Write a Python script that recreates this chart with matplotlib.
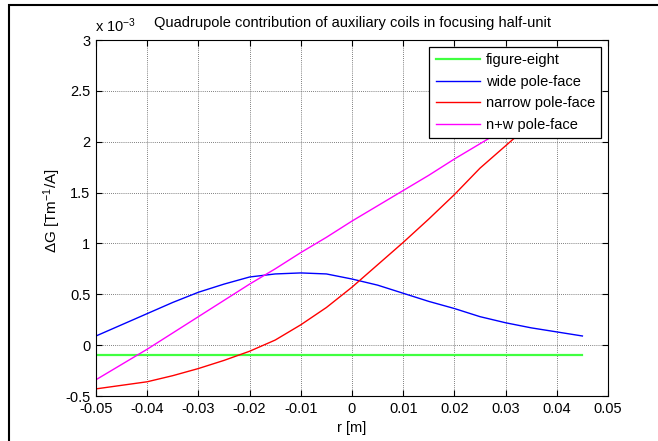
import numpy as np
import matplotlib.pyplot as plt
from matplotlib.patches import Rectangle

plt.rcParams['font.family'] = ['Liberation Sans', 'DejaVu Sans']
plt.rcParams['mathtext.fontset'] = 'custom'
plt.rcParams['mathtext.rm'] = 'Liberation Sans'
plt.rcParams['mathtext.it'] = 'Liberation Sans'

# radial position [m]
r = [-0.05, -0.045, -0.04, -0.035, -0.03, -0.025, -0.02, -0.015, -0.01, -0.005,
     0.0, 0.005, 0.01, 0.015, 0.02, 0.025, 0.03, 0.035, 0.04, 0.045]

# gradient per ampere, units of 1e-3 Tm^-1/A
figure_eight = [-0.10] * 20
wide = [0.09, 0.20, 0.31, 0.42, 0.52, 0.60, 0.67, 0.70, 0.71, 0.70,
        0.65, 0.59, 0.51, 0.43, 0.36, 0.28, 0.22, 0.17, 0.13, 0.09]
narrow = [-0.43, -0.395, -0.36, -0.30, -0.23, -0.15, -0.06, 0.05, 0.20, 0.37,
          0.57, 0.79, 1.01, 1.24, 1.48, 1.74, 1.96, 2.18, 2.40, 2.62]
n_plus_w = [-0.34, -0.19, -0.04, 0.12, 0.28, 0.44, 0.60, 0.75, 0.91, 1.06,
            1.22, 1.37, 1.52, 1.67, 1.83, 1.98, 2.13, 2.29, 2.44, 2.59]

xticks = [-0.05, -0.04, -0.03, -0.02, -0.01, 0, 0.01, 0.02, 0.03, 0.04, 0.05]
xticklabels = ['-0.05', '-0.04', '-0.03', '-0.02', '-0.01', '0', '0.01', '0.02', '0.03', '0.04', '0.05']
yticks = [-0.5, 0, 0.5, 1, 1.5, 2, 2.5, 3]
yticklabels = ['-0.5', '0', '0.5', '1', '1.5', '2', '2.5', '3']

fs = 10.5

fig = plt.figure(figsize=(6.58, 4.41), dpi=100)
ax = fig.add_axes([96/658, 1-396/441, 512/658, 356/441])

ax.plot(r, figure_eight, color='#40ff40', lw=1.6, label='figure-eight')
ax.plot(r, wide, color='#0000ff', lw=1.0, label='wide pole-face')
ax.plot(r, narrow, color='#ff0000', lw=1.0, label='narrow pole-face')
ax.plot(r, n_plus_w, color='#ff00ff', lw=1.0, label='n+w pole-face')

ax.set_xlim(-0.05, 0.05)
ax.set_ylim(-0.5, 3)
ax.set_xticks(xticks)
ax.set_xticklabels(xticklabels)
ax.set_yticks(yticks)
ax.set_yticklabels(yticklabels)
ax.tick_params(direction='in', top=True, right=True, length=4, labelsize=fs, width=0.8, pad=4)
ax.grid(True, color='#555555', linestyle=(0, (1, 1.5)), linewidth=0.6)
for s in ax.spines.values():
    s.set_linewidth(0.8)

ax.set_xlabel('r [m]', fontsize=fs, labelpad=4)
ax.set_ylabel('ΔG [Tm$^{-1}$/A]', fontsize=fs + 0.5)
ax.yaxis.set_label_coords(-0.064, 0.52)
ax.set_title('Quadrupole contribution of auxiliary coils in focusing half-unit', fontsize=fs, pad=9)
fig.text(96/658 - 0.002, 1 - 32/441, r'x 10$^{-3}$', fontsize=fs, va='baseline')

leg = ax.legend(loc='upper right', fontsize=fs, fancybox=False, framealpha=1,
                edgecolor='black', borderaxespad=0.45, handlelength=3.0,
                handletextpad=0.4, labelspacing=0.52, borderpad=0.45)
leg.get_frame().set_linewidth(0.9)

# figure frame
fig.patches.append(Rectangle((9/658, -0.1), 1.2, 1.1 - 5/441, transform=fig.transFigure,
                             fill=False, edgecolor='black', lw=1.5))

fig.savefig('out.png', dpi=100)
